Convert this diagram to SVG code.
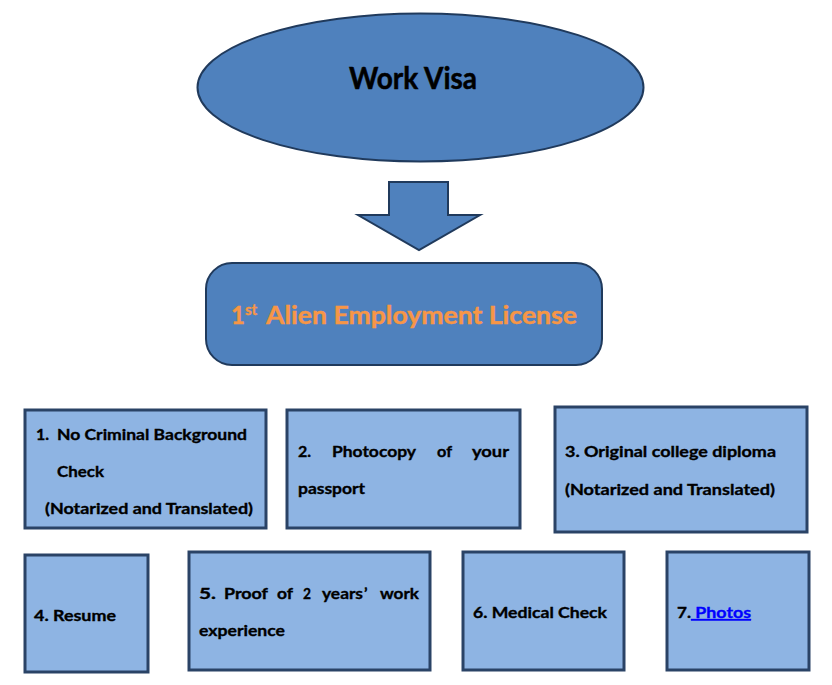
<svg xmlns="http://www.w3.org/2000/svg" width="832" height="685" viewBox="0 0 832 685">
<style>
.bg{fill:#ffffff}
.main{fill:#4F81BD;stroke:#203A5C;stroke-width:2}
.box{fill:#8EB4E3;stroke:#2A4366;stroke-width:3}
.t{font-family:Lato,"Liberation Sans",sans-serif;font-weight:bold;font-size:16px;fill:#000000;stroke:#000000;stroke-width:0.35}
.big{font-family:Lato,"Liberation Sans",sans-serif;font-weight:bold;font-size:30px;fill:#000000;stroke:#000000;stroke-width:0.5}
.lic{font-family:Lato,"Liberation Sans",sans-serif;font-weight:bold;font-size:24px;fill:#F79646;stroke:#F79646;stroke-width:0.4}
.link{fill:#0000FF;stroke:#0000FF;text-decoration:underline}
</style>
<rect class="bg" x="0" y="0" width="832" height="685"/>
<g id="work-visa">
<ellipse class="main" cx="420.5" cy="87.5" rx="223" ry="74"/>
<text class="big" x="349" y="89" textLength="128" lengthAdjust="spacingAndGlyphs">Work Visa</text>
</g>
<g id="connectors">
<polygon class="main" points="389,182 448,182 448,215 480,215 419,250 358,215 389,215"/>
</g>
<g id="license">
<rect class="main" x="206" y="263" width="396" height="102" rx="26" ry="26"/>
<text class="lic" x="231" y="324"><tspan>1</tspan><tspan font-size="15" dy="-9">st</tspan><tspan dy="9" x="266" textLength="311" lengthAdjust="spacingAndGlyphs">Alien Employment License</tspan></text>
</g>
<g id="item1">
<rect class="box" x="25" y="410" width="241" height="118"/>
<text class="t" x="36" y="440">1.</text>
<text class="t" x="57" y="440" textLength="190" lengthAdjust="spacingAndGlyphs">No Criminal Background</text>
<text class="t" x="57" y="477" textLength="47" lengthAdjust="spacingAndGlyphs">Check</text>
<text class="t" x="45" y="514" textLength="208" lengthAdjust="spacingAndGlyphs">(Notarized and Translated)</text>
</g>
<g id="item2">
<rect class="box" x="287" y="410" width="233" height="118"/>
<text class="t" x="298" y="457">2.</text>
<text class="t" x="332" y="457" textLength="84" lengthAdjust="spacingAndGlyphs">Photocopy</text>
<text class="t" x="437" y="457" textLength="15" lengthAdjust="spacingAndGlyphs">of</text>
<text class="t" x="472" y="457" textLength="37" lengthAdjust="spacingAndGlyphs">your</text>
<text class="t" x="298" y="494" textLength="67" lengthAdjust="spacingAndGlyphs">passport</text>
</g>
<g id="item3">
<rect class="box" x="555" y="407" width="252" height="125"/>
<text class="t" x="565" y="457" textLength="211" lengthAdjust="spacingAndGlyphs">3. Original college diploma</text>
<text class="t" x="565" y="495" textLength="210" lengthAdjust="spacingAndGlyphs">(Notarized and Translated)</text>
</g>
<g id="item4">
<rect class="box" x="25" y="555" width="123" height="117"/>
<text class="t" x="34" y="621" textLength="82" lengthAdjust="spacingAndGlyphs">4. Resume</text>
</g>
<g id="item5">
<rect class="box" x="189" y="552" width="241" height="118"/>
<text class="t" x="199" y="599" textLength="17" lengthAdjust="spacingAndGlyphs">5.</text>
<text class="t" x="224" y="599" textLength="44" lengthAdjust="spacingAndGlyphs">Proof</text>
<text class="t" x="277" y="599" textLength="16" lengthAdjust="spacingAndGlyphs">of</text>
<text class="t" x="303" y="599" textLength="8" lengthAdjust="spacingAndGlyphs">2</text>
<text class="t" x="322" y="599" textLength="41" lengthAdjust="spacingAndGlyphs">years</text>
<text class="t" x="364" y="599">’</text>
<text class="t" x="380" y="599" textLength="39" lengthAdjust="spacingAndGlyphs">work</text>
<text class="t" x="199" y="636" textLength="86" lengthAdjust="spacingAndGlyphs">experience</text>
</g>
<g id="item6">
<rect class="box" x="463" y="552" width="161" height="118"/>
<text class="t" x="473" y="618" textLength="134" lengthAdjust="spacingAndGlyphs">6. Medical Check</text>
</g>
<g id="item7">
<rect class="box" x="667" y="552" width="142" height="118"/>
<text class="t" x="677" y="618" textLength="14" lengthAdjust="spacingAndGlyphs">7.</text>
<text class="t link" x="691" y="618" textLength="60" lengthAdjust="spacingAndGlyphs" xml:space="preserve"> Photos</text>
</g>
</svg>
